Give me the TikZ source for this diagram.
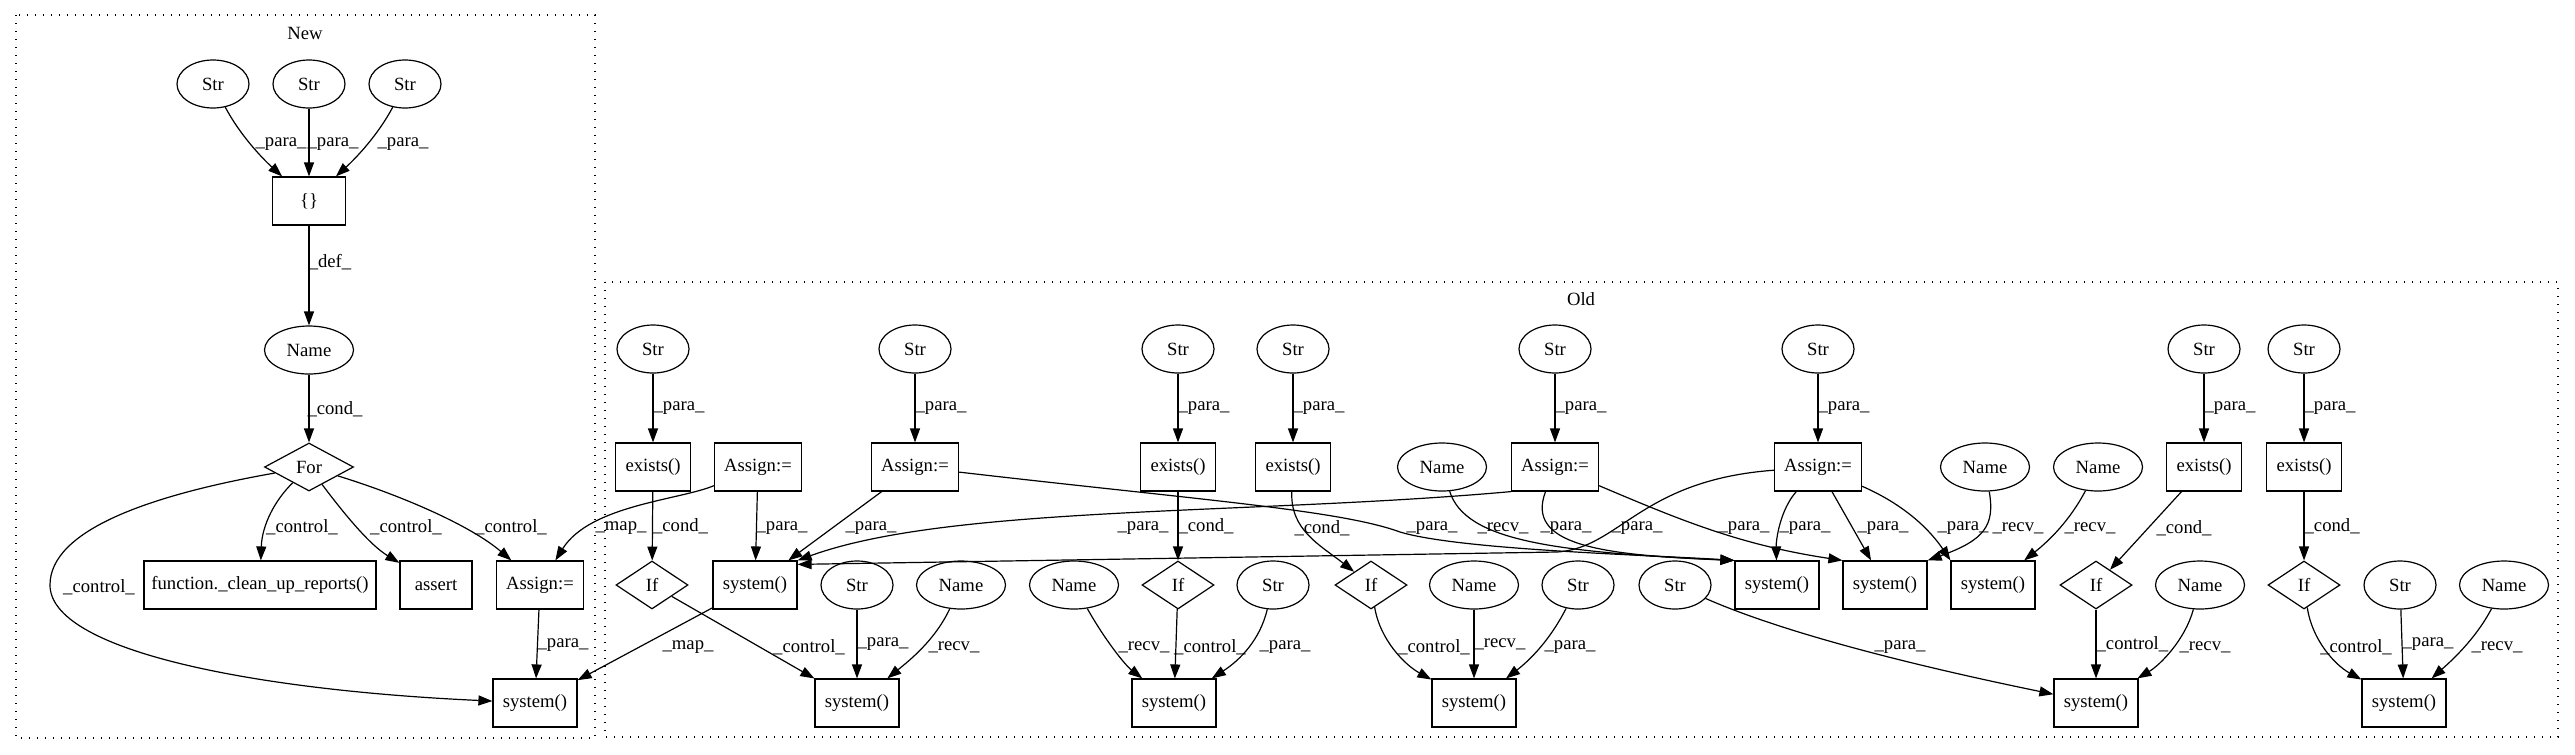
\documentclass[tikz,border=0pt]{standalone}
\usepackage{fontspec}
\setmainfont{Liberation Serif}
\usetikzlibrary{arrows.meta,shapes.geometric}

\begin{document}
\begin{tikzpicture}[x=0.75pt,y=-0.75pt,
    every node/.style={font=\fontsize{14pt}{16pt}\selectfont},
    str/.style={draw,line width=0.9pt,ellipse,minimum width=54pt,minimum height=36pt,inner sep=1pt},
    nam/.style={str,minimum width=66.75pt},
    box/.style={draw,line width=0.9pt,rectangle,minimum height=36pt,minimum width=54pt,inner sep=2pt},
    ex/.style={box,minimum width=56.25pt},
    asg/.style={box,minimum width=65.25pt},
    sys/.style={box,minimum width=63pt},
    cnd/.style={draw,line width=0.9pt,diamond,minimum width=54pt,minimum height=36pt,inner sep=0pt},
    lbl/.style={inner sep=0pt},
    e/.style={line width=0.9pt,-{Triangle[length=10.5pt,width=7.5pt]}},
    cluster/.style={line width=0.9pt,dash pattern=on 1pt off 5pt}]
  \useasboundingbox (0,0) rectangle (2575,754);
  % clusters
  \draw[cluster] (16,15) rectangle (595,738);
  \node (tnew) at (305,33) {New};
  \draw[cluster] (605,282) rectangle (2558,737);
  \node (told) at (1581,299) {Old};

  % New
  \node[str] (nsa) at (213,84) {Str};
  \node[str] (nsb) at (309,84) {Str};
  \node[str] (nsc) at (405,84) {Str};
  \node[box,minimum width=54.75pt] (nbr) at (309,201) {\{\}};
  \node[nam] (nnm) at (309,350) {Name};
  \node[cnd,minimum width=66.75pt] (nfor) at (309,467) {For};
  \node[box,minimum width=174pt] (nfn) at (260,585) {function.\_clean\_up\_reports()};
  \node[box] (nas) at (436,585) {assert};
  \node[asg] (nasg) at (540,585) {Assign:=};
  \node[sys] (nsys) at (535,703) {system()};

  % Old, top rows
  \node[str] (os1) at (653,349) {Str};
  \node[str] (os2) at (915,349) {Str};
  \node[str] (os3) at (1178,349) {Str};
  \node[str] (os4) at (1293,349) {Str};
  \node[str] (os5) at (1555,349) {Str};
  \node[str] (os6) at (1818,349) {Str};
  \node[str] (os7) at (2204,349) {Str};
  \node[str] (os8) at (2304,349) {Str};
  \node[ex] (oex1) at (653,467) {exists()};
  \node[asg] (oa1) at (758,467) {Assign:=};
  \node[asg] (oa2) at (915,467) {Assign:=};
  \node[ex] (oex2) at (1178,467) {exists()};
  \node[ex] (oex3) at (1293,467) {exists()};
  \node[nam] (on1) at (1442,467) {Name};
  \node[asg] (oa3) at (1555,467) {Assign:=};
  \node[asg] (oa4) at (1818,467) {Assign:=};
  \node[nam] (on2) at (1985,467) {Name};
  \node[nam] (on3) at (2098,467) {Name};
  \node[ex] (oex4) at (2204,467) {exists()};
  \node[ex] (oex5) at (2304,467) {exists()};

  % Old, lower rows
  \node[cnd] (oif1) at (652,585) {If};
  \node[sys] (osy1) at (755,585) {system()};
  \node[str] (ost1) at (857,585) {Str};
  \node[nam] (onm1) at (961,585) {Name};
  \node[nam] (onm2) at (1074,585) {Name};
  \node[cnd] (oif2) at (1178,585) {If};
  \node[str] (ost2) at (1273,585) {Str};
  \node[cnd] (oif3) at (1371,585) {If};
  \node[nam] (onm3) at (1474,585) {Name};
  \node[str] (ost3) at (1578,585) {Str};
  \node[str] (ost4) at (1675,585) {Str};
  \node[sys] (osy2) at (1777,585) {system()};
  \node[sys] (osy3) at (1885,585) {system()};
  \node[sys] (osy4) at (1993,585) {system()};
  \node[cnd] (oif4) at (2096,585) {If};
  \node[nam] (onm4) at (2200,585) {Name};
  \node[cnd] (oif5) at (2304,585) {If};
  \node[str] (ost5) at (2400,585) {Str};
  \node[nam] (onm5) at (2504,585) {Name};
  \node[sys] (ob1) at (857,703) {system()};
  \node[sys] (ob2) at (1174,703) {system()};
  \node[sys] (ob3) at (1474,703) {system()};
  \node[sys] (ob4) at (2096,703) {system()};
  \node[sys] (ob5) at (2404,703) {system()};

  % New edges
  \draw[e] (nsa) .. controls (240,135) and (262,158) .. (nbr) node[lbl] at (281,144) {\_para\_};
  \draw[e] (nsb) -- (nbr) node[lbl] at (333,144) {\_para\_};
  \draw[e] (nsc) .. controls (378,135) and (356,158) .. (nbr) node[lbl] at (403,144) {\_para\_};
  \draw[e] (nbr) -- (nnm) node[lbl] at (330,262) {\_def\_};
  \draw[e] (nnm) -- (nfor) node[lbl] at (335,409) {\_cond\_};
  \draw[e] (nfor) .. controls (275,500) and (262,525) .. (nfn) node[lbl] at (302,527) {\_control\_};
  \draw[e] (nfor) .. controls (345,515) and (370,545) .. (nas) node[lbl] at (406,527) {\_control\_};
  \draw[e] (nfor) .. controls (400,495) and (470,525) .. (nasg) node[lbl] at (511,527) {\_control\_};
  \draw[e] (nfor) .. controls (150,495) and (50,530) .. (50,585)
    .. controls (50,650) and (250,690) .. (nsys) node[lbl] at (99,587) {\_control\_};
  \draw[e] (nasg) -- (nsys) node[lbl] at (563,645) {\_para\_};

  % Old edges, first rank
  \foreach \a/\b in {os1/oex1,os2/oa2,os3/oex2,os4/oex3,os5/oa3,os6/oa4,os7/oex4,os8/oex5}
    \draw[e] (\a) -- (\b) node[lbl,midway,right] {\_para\_};

  % Old edges, second rank
  \draw[e] (oex1) -- (oif1) node[lbl,midway,right] {\_cond\_};
  \draw[e] (oex2) -- (oif2) node[lbl,midway,right] {\_cond\_};
  \draw[e] (oex3) .. controls (1290,530) and (1320,545) .. (oif3) node[lbl] at (1322,528) {\_cond\_};
  \draw[e] (oex4) -- (oif4) node[lbl] at (2184,528) {\_cond\_};
  \draw[e] (oex5) -- (oif5) node[lbl,midway,right] {\_cond\_};
  \draw[e] (oa1) .. controls (680,500) and (590,505) .. (nasg) node[lbl] at (621,528) {\_map\_};
  \draw[e] (oa1) -- (osy1) node[lbl] at (782,528) {\_para\_};
  \draw[e] (oa2) -- (osy1) node[lbl] at (871,528) {\_para\_};
  \draw[e] (oa2) .. controls (1200,500) and (1340,510) .. (1400,532)
    .. controls (1460,550) and (1650,555) .. (osy2.north west) node[lbl] at (1432,528) {\_para\_};
  \draw[e] (oa3.south west) .. controls (1250,515) and (950,505) .. (osy1.north east) node[lbl] at (1143,528) {\_para\_};
  \draw[e] (oa3) .. controls (1525,545) and (1600,555) .. (osy2.north west) node[lbl] at (1566,528) {\_para\_};
  \draw[e] (on1) .. controls (1465,540) and (1550,552) .. (osy2.north west) node[lbl] at (1503,528) {\_recv\_};
  \draw[e] (oa3) .. controls (1680,520) and (1740,545) .. (osy3.north west) node[lbl] at (1744,528) {\_para\_};
  \draw[e] (oa4) .. controls (1640,480) and (1620,548) .. (1557,552)
    -- ([yshift=-3pt]osy1.north east) node[lbl] at (1637,528) {\_para\_};
  \draw[e] (oa4) .. controls (1780,510) and (1776,540) .. (osy2) node[lbl] at (1805,528) {\_para\_};
  \draw[e] (oa4) -- (osy3) node[lbl] at (1883,528) {\_para\_};
  \draw[e] (oa4) .. controls (1905,505) and (1930,530) .. (osy4.north west) node[lbl] at (1963,528) {\_para\_};
  \draw[e] (on2) .. controls (1995,525) and (1985,540) .. (osy3.north east) node[lbl] at (2018,528) {\_recv\_};
  \draw[e] (on3) .. controls (2070,520) and (2050,540) .. (osy4) node[lbl] at (2090,528) {\_recv\_};

  % Old edges, third rank
  \draw[e] (osy1) -- (nsys) node[lbl] at (688,647) {\_map\_};
  \draw[e] (oif1) -- (ob1) node[lbl] at (809,647) {\_control\_};
  \draw[e] (ost1) -- (ob1) node[lbl,midway,right] {\_para\_};
  \draw[e] (onm1) .. controls (935,640) and (910,660) .. (ob1) node[lbl] at (954,647) {\_recv\_};
  \draw[e] (onm2) .. controls (1105,640) and (1125,665) .. (ob2) node[lbl] at (1144,647) {\_recv\_};
  \draw[e] (oif2) -- (ob2) node[lbl] at (1210,647) {\_control\_};
  \draw[e] (ost2) .. controls (1260,640) and (1240,660) .. (ob2) node[lbl] at (1285,647) {\_para\_};
  \draw[e] (oif3) .. controls (1380,640) and (1405,665) .. (ob3) node[lbl] at (1434,647) {\_control\_};
  \draw[e] (onm3) -- (ob3) node[lbl,midway,right] {\_recv\_};
  \draw[e] (ost3) .. controls (1550,640) and (1530,660) .. (ob3) node[lbl] at (1570,647) {\_para\_};
  \draw[e] (ost4) .. controls (1800,640) and (1960,675) .. (ob4) node[lbl] at (1900,647) {\_para\_};
  \draw[e] (oif4) -- (ob4) node[lbl,midway,right] {\_control\_};
  \draw[e] (onm4) .. controls (2185,640) and (2160,665) .. (ob4) node[lbl] at (2205,647) {\_recv\_};
  \draw[e] (oif5) .. controls (2312,640) and (2335,665) .. (ob5) node[lbl] at (2356,647) {\_control\_};
  \draw[e] (ost5) -- (ob5) node[lbl,midway,right] {\_para\_};
  \draw[e] (onm5) .. controls (2475,640) and (2450,662) .. (ob5) node[lbl] at (2497,647) {\_recv\_};
\end{tikzpicture}
\end{document}
